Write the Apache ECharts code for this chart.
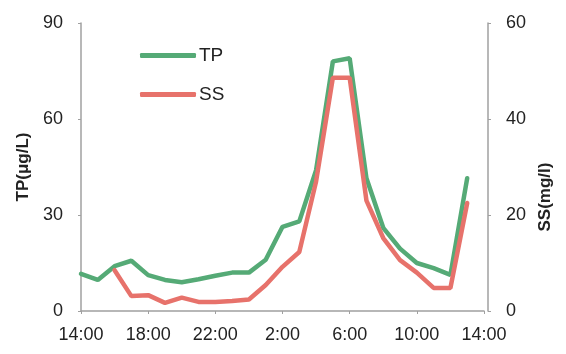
<!DOCTYPE html>
<html lang="en">
<head>
  <meta charset="UTF-8">
  <title>TP SS</title>
  <script src="https://cdn.jsdelivr.net/npm/echarts@6/dist/echarts.min.js"></script>
</head>
<body style="margin:0;background:#fff">
  <div id="chart" style="width:566px;height:354px;"></div>
<script>
  // hourly samples, 14:00 -> 14:00 next day
  var hours = ['14:00','15:00','16:00','17:00','18:00','19:00','20:00','21:00','22:00','23:00','0:00','1:00',
    '2:00','3:00','4:00','5:00','6:00','7:00','8:00','9:00','10:00','11:00','12:00','13:00','14:00']
  var tp = [11.6, 9.7, 14, 15.7, 11.2, 9.7, 9, 9.9, 11, 12, 12, 16, 26.3, 28, 44, 78, 79, 41.5, 26, 19.5, 15, 13.4, 11.3, 41.5]
  var ss = [null, null, 8.5, 3.1, 3.3, 1.7, 2.8, 1.9, 1.9, 2.1, 2.4, 5.4, 9.2, 12.3, 27, 48.6, 48.6, 23, 15.2, 10.6, 8, 4.8, 4.8, 22.5]

  var green = '#55aa76'
  var red = '#e7726b'
  var font = 'Liberation Sans, Arial, sans-serif'
  var axisLine = { show: true, lineStyle: { color: '#a0a0a0', width: 1.5 } }

  var chart = echarts.init(document.getElementById('chart'))
  chart.setOption({
    animation: false,
    grid: { left: 81, right: 82, top: 23, bottom: 43 },
    legend: {
      orient: 'vertical',
      left: 135, top: 41,
      icon: 'roundRect',
      itemWidth: 56, itemHeight: 5, itemGap: 20,
      textStyle: { fontSize: 19, color: '#222', fontFamily: font, padding: [0, 0, 0, -2] },
      data: ['TP', 'SS']
    },
    xAxis: {
      type: 'category',
      data: hours,
      boundaryGap: false,
      axisLine: axisLine,
      axisTick: { show: true, interval: 3, length: 3, lineStyle: { color: '#a0a0a0' } },
      axisLabel: { interval: 3, fontSize: 18, color: '#222', fontFamily: font, margin: 15 },
      splitLine: { show: false }
    },
    yAxis: [
      {
        type: 'value', min: 0, max: 90, interval: 30,
        name: 'TP(μg/L)', nameLocation: 'middle', nameGap: 47, nameRotate: 90,
        nameTextStyle: { fontSize: 17, fontWeight: 'bold', color: '#222', fontFamily: font },
        axisLine: axisLine,
        axisTick: { show: true, length: 3, lineStyle: { color: '#a0a0a0' } },
        axisLabel: { fontSize: 18, color: '#222', fontFamily: font, margin: 18 },
        splitLine: { show: false }
      },
      {
        type: 'value', min: 0, max: 60, interval: 20, offset: 4,
        name: 'SS(mg/l)', nameLocation: 'middle', nameGap: 44, nameRotate: 90,
        nameTextStyle: { fontSize: 17, fontWeight: 'bold', color: '#222', fontFamily: font, padding: [0, 0, 0, -60] },
        axisLine: axisLine,
        axisTick: { show: true, length: 3, lineStyle: { color: '#a0a0a0' } },
        axisLabel: { fontSize: 18, color: '#222', fontFamily: font, margin: 18 },
        splitLine: { show: false }
      }
    ],
    series: [
      {
        name: 'TP', type: 'line', yAxisIndex: 0, data: tp,
        symbol: 'none', color: green,
        lineStyle: { width: 4.5, color: green, cap: 'round' }
      },
      {
        name: 'SS', type: 'line', yAxisIndex: 1, data: ss,
        symbol: 'none', color: red,
        lineStyle: { width: 4.5, color: red, cap: 'round' }
      }
    ]
  })
</script>
</body>
</html>
